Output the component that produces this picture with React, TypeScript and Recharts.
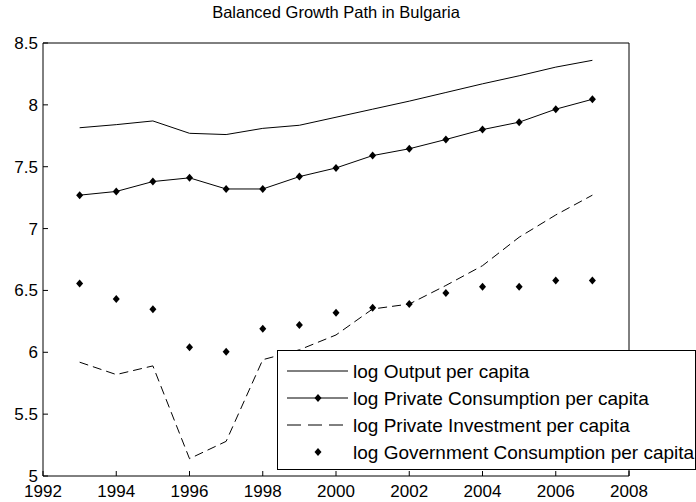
import { ComposedChart, Line, XAxis, YAxis, Legend } from 'recharts';

const years = [1993, 1994, 1995, 1996, 1997, 1998, 1999, 2000, 2001, 2002, 2003, 2004, 2005, 2006, 2007];
const logOutput = [7.815, 7.84, 7.87, 7.77, 7.76, 7.81, 7.835, 7.9, 7.965, 8.03, 8.1, 8.17, 8.235, 8.305, 8.36];
const logPrivateConsumption = [7.27, 7.3, 7.38, 7.41, 7.32, 7.32, 7.42, 7.49, 7.59, 7.645, 7.72, 7.8, 7.86, 7.965, 8.045];
const logPrivateInvestment = [5.92, 5.82, 5.89, 5.14, 5.28, 5.94, 6.02, 6.14, 6.35, 6.39, 6.54, 6.7, 6.93, 7.11, 7.27];
const logGovConsumption = [6.555, 6.43, 6.347, 6.04, 6.005, 6.19, 6.22, 6.32, 6.36, 6.39, 6.48, 6.53, 6.53, 6.58, 6.58];

const xTicks = [1992, 1994, 1996, 1998, 2000, 2002, 2004, 2006, 2008];
const yTicks = [5, 5.5, 6, 6.5, 7, 7.5, 8, 8.5];

const legendNames = [
  'log Output per capita',
  'log Private Consumption per capita',
  'log Private Investment per capita',
  'log Government Consumption per capita',
];

const data = years.map((year, i) => ({
  year,
  output: logOutput[i],
  cons: logPrivateConsumption[i],
  inv: logPrivateInvestment[i],
  gov: logGovConsumption[i],
}));

const FONT = '"Liberation Sans", Arial, sans-serif';
const DASH = '9 5';

function Diamond(props: any) {
  const { cx, cy } = props;
  if (cx == null || cy == null) return null;
  return (
    <polygon
      key={`d-${cx}-${cy}`}
      points={`${cx},${cy - 4} ${cx + 3.5},${cy} ${cx},${cy + 4} ${cx - 3.5},${cy}`}
      fill="#000"
    />
  );
}

function LegendBox() {
  const rows = [21, 48, 75, 102];
  return (
    <svg width={419} height={120} style={{ display: 'block' }}>
      <rect x={0.5} y={0.5} width={418} height={119} fill="#fff" stroke="#000" />
      {legendNames.map((name, i) => {
        const y = rows[i];
        return (
          <g key={name}>
            {i === 0 && <line x1={10} x2={71} y1={y} y2={y} stroke="#000" />}
            {i === 1 && (
              <>
                <line x1={10} x2={71} y1={y} y2={y} stroke="#000" />
                <Diamond cx={41} cy={y} />
              </>
            )}
            {i === 2 && <line x1={10} x2={71} y1={y} y2={y} stroke="#000" strokeDasharray="14 7" />}
            {i === 3 && <Diamond cx={41} cy={y} />}
            <text x={76} y={y} dominantBaseline="central" fontFamily={FONT} fontSize={19} fill="#000">
              {name}
            </text>
          </g>
        );
      })}
    </svg>
  );
}

export default function App() {
  return (
    <div style={{ position: 'absolute', left: 0, top: 0, width: 696, height: 502, background: '#fff' }}>
      <div
        style={{
          position: 'absolute',
          left: 0,
          width: 672,
          top: 3,
          textAlign: 'center',
          fontFamily: FONT,
          fontSize: 16.5,
          color: '#000',
        }}
      >
        Balanced Growth Path in Bulgaria
      </div>
      <ComposedChart
        width={696}
        height={502}
        data={data}
        margin={{ top: 33, right: 57, bottom: 0, left: 3 }}
      >
        <XAxis
          dataKey="year"
          type="number"
          domain={[1992, 2008]}
          ticks={xTicks}
          height={26}
          tickSize={-5}
          tickMargin={14}
          stroke="#000"
          tick={{ fill: '#000', fontSize: 17, fontFamily: FONT }}
        />
        <XAxis
          xAxisId="top"
          orientation="top"
          dataKey="year"
          type="number"
          domain={[1992, 2008]}
          ticks={xTicks}
          height={10}
          tickSize={-5}
          tick={false}
          stroke="#000"
        />
        <YAxis
          type="number"
          domain={[5, 8.5]}
          ticks={yTicks}
          width={40}
          tickSize={-5}
          tickMargin={10}
          stroke="#000"
          tick={{ fill: '#000', fontSize: 17, fontFamily: FONT }}
        />
        <YAxis
          yAxisId="right"
          orientation="right"
          type="number"
          domain={[5, 8.5]}
          ticks={yTicks}
          width={10}
          tickSize={-5}
          tick={false}
          stroke="#000"
        />
        <Line dataKey="output" stroke="#000" strokeWidth={1} dot={false} isAnimationActive={false} />
        <Line dataKey="cons" stroke="#000" strokeWidth={1} dot={<Diamond />} isAnimationActive={false} />
        <Line
          dataKey="inv"
          stroke="#000"
          strokeWidth={1}
          strokeDasharray={DASH}
          dot={false}
          isAnimationActive={false}
        />
        <Line dataKey="gov" stroke="none" dot={<Diamond />} isAnimationActive={false} />
        <Legend
          layout="vertical"
          align="center"
          verticalAlign="middle"
          wrapperStyle={{ position: 'absolute', left: 277, top: 350, width: 419, height: 120 }}
          content={() => <LegendBox />}
        />
      </ComposedChart>
    </div>
  );
}
